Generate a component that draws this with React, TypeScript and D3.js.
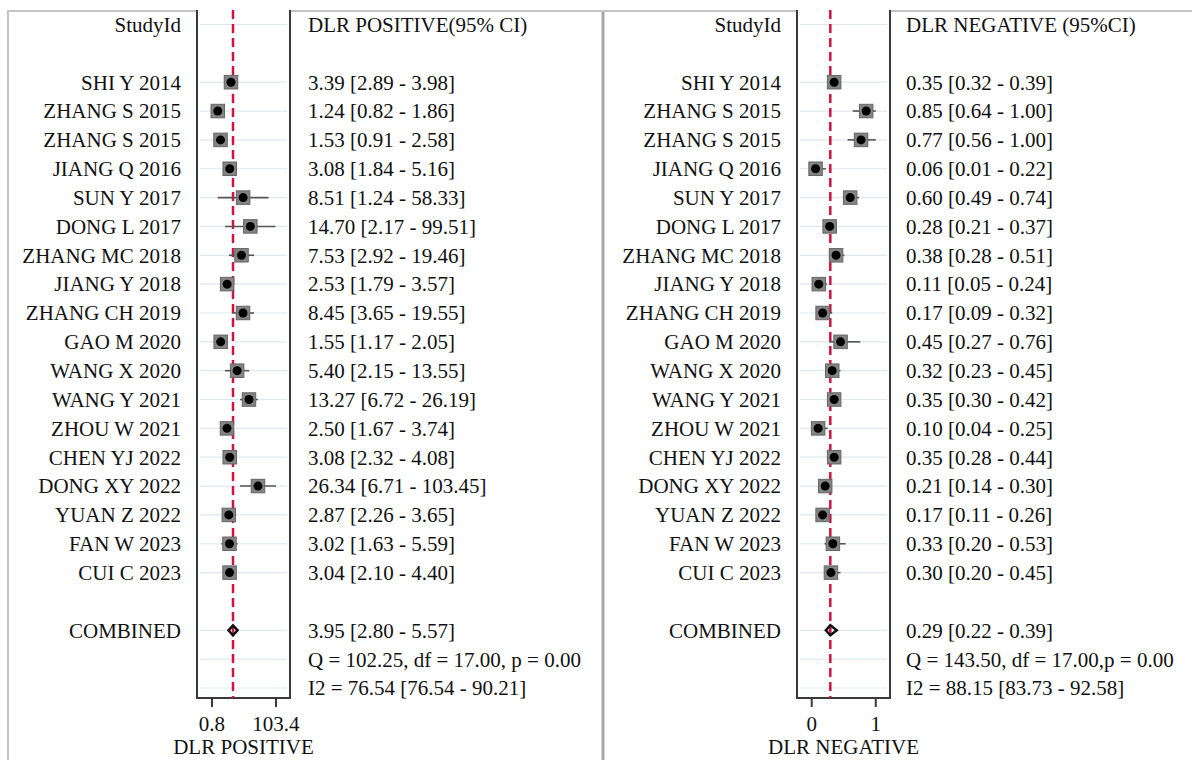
import React from 'react'
import * as d3 from 'd3'

const studies = [
  'SHI Y 2014', 'ZHANG S 2015', 'ZHANG S 2015', 'JIANG Q 2016', 'SUN Y 2017',
  'DONG L 2017', 'ZHANG MC 2018', 'JIANG Y 2018', 'ZHANG CH 2019', 'GAO M 2020',
  'WANG X 2020', 'WANG Y 2021', 'ZHOU W 2021', 'CHEN YJ 2022', 'DONG XY 2022',
  'YUAN Z 2022', 'FAN W 2023', 'CUI C 2023',
]

const posEst = [3.39, 1.24, 1.53, 3.08, 8.51, 14.70, 7.53, 2.53, 8.45, 1.55, 5.40, 13.27, 2.50, 3.08, 26.34, 2.87, 3.02, 3.04]
const posLo = [2.89, 0.82, 0.91, 1.84, 1.24, 2.17, 2.92, 1.79, 3.65, 1.17, 2.15, 6.72, 1.67, 2.32, 6.71, 2.26, 1.63, 2.10]
const posHi = [3.98, 1.86, 2.58, 5.16, 58.33, 99.51, 19.46, 3.57, 19.55, 2.05, 13.55, 26.19, 3.74, 4.08, 103.45, 3.65, 5.59, 4.40]

const negEst = [0.35, 0.85, 0.77, 0.06, 0.60, 0.28, 0.38, 0.11, 0.17, 0.45, 0.32, 0.35, 0.10, 0.35, 0.21, 0.17, 0.33, 0.30]
const negLo = [0.32, 0.64, 0.56, 0.01, 0.49, 0.21, 0.28, 0.05, 0.09, 0.27, 0.23, 0.30, 0.04, 0.28, 0.14, 0.11, 0.20, 0.20]
const negHi = [0.39, 1.00, 1.00, 0.22, 0.74, 0.37, 0.51, 0.24, 0.32, 0.76, 0.45, 0.42, 0.25, 0.44, 0.30, 0.26, 0.53, 0.45]

const posPooled = [3.95, 2.80, 5.57]
const negPooled = [0.29, 0.22, 0.39]

const posStats = ['Q = 102.25, df = 17.00, p = 0.00', 'I2 = 76.54 [76.54 - 90.21]']
const negStats = ['Q = 143.50, df = 17.00,p = 0.00', 'I2 = 88.15 [83.73 - 92.58]']

const posTicks = [0.8, 103.4]
const negTicks = [0, 1]

const W = 1192
const H = 760
const FONT = '"Liberation Serif", "Times New Roman", serif'
const FS = 21

// row index: 0 header, 1 blank, 2..19 studies, 20 blank, 21 combined, 22 Q, 23 I2
const y = d3.scaleLinear().domain([0, 23]).range([24.5, 688])
const gridRows = [0, ...studies.map((_, i) => i + 2), 21, 22, 23]

const boxTop = 10
const boxBottom = 698

const fmt = d3.format('.2f')
const ci = (e, l, h) => `${fmt(e)} [${fmt(l)} - ${fmt(h)}]`

function Panel({ p }) {
  const x = p.scale
  const [x0, x1] = x.range()
  const ref = x(p.pooled[0])
  const sq = 13.5
  return (
    <g>
      {/* header */}
      <text x={p.labelX} y={y(0)} textAnchor="end" dy="0.35em">StudyId</text>
      <text x={p.valueX} y={y(0)} dy="0.35em">{p.header}</text>

      {/* grid */}
      {gridRows.map(r => (
        <line key={r} x1={x0 + 3} x2={x1 - 3} y1={y(r)} y2={y(r)} stroke="#dde9ef" strokeWidth={1.2} />
      ))}

      {/* box */}
      <path d={`M${x0},${boxTop}V${boxBottom}H${x1}V${boxTop}`} fill="none" stroke="#3a3a3a" strokeWidth={2} />
      {p.ticks.map(t => (
        <g key={t}>
          <line x1={x(t)} x2={x(t)} y1={boxBottom} y2={boxBottom + 9} stroke="#3a3a3a" strokeWidth={2} />
          <text x={x(t)} y={731} textAnchor="middle">{p.tickFmt(t)}</text>
        </g>
      ))}
      <text x={(x0 + x1) / 2} y={754} textAnchor="middle">{p.title}</text>

      {/* reference line */}
      <line x1={ref} x2={ref} y1={boxTop} y2={boxBottom} stroke="#d0143f" strokeWidth={2.5} strokeDasharray="9,5" />

      {/* studies */}
      {studies.map((s, i) => {
        const yy = y(i + 2)
        const cx = x(p.est[i])
        return (
          <g key={i}>
            <text x={p.labelX} y={yy} textAnchor="end" dy="0.35em">{s}</text>
            <text x={p.valueX} y={yy} dy="0.35em">{ci(p.est[i], p.lo[i], p.hi[i])}</text>
            <line x1={x(p.lo[i])} x2={x(p.hi[i])} y1={yy} y2={yy} stroke="#555" strokeWidth={1.6} />
            <rect x={cx - sq / 2} y={yy - sq / 2} width={sq} height={sq} fill="#848484" stroke="#666" strokeWidth={1} />
            <circle cx={cx} cy={yy} r={4.5} fill="#000" />
          </g>
        )
      })}

      {/* combined */}
      <text x={p.labelX} y={y(21)} textAnchor="end" dy="0.35em">COMBINED</text>
      <text x={p.valueX} y={y(21)} dy="0.35em">{ci(p.pooled[0], p.pooled[1], p.pooled[2])}</text>
      <path
        d={`M${x(p.pooled[1])},${y(21)}L${ref},${y(21) - 5}L${x(p.pooled[2])},${y(21)}L${ref},${y(21) + 5}Z`}
        fill="none" stroke="#111" strokeWidth={2.5}
      />
      {p.stats.map((s, i) => (
        <text key={i} x={p.valueX} y={y(22 + i)} dy="0.35em">{s}</text>
      ))}

      {/* frame top pieces */}
      <line x1={p.frameL} x2={x0 - 1} y1={11} y2={11} stroke="#c4c4c4" strokeWidth={2} />
      <line x1={x1 + 1} x2={p.frameR} y1={11} y2={11} stroke="#c4c4c4" strokeWidth={2} />
    </g>
  )
}

export default function App() {
  const panels = [
    {
      est: posEst, lo: posLo, hi: posHi, pooled: posPooled, stats: posStats,
      scale: d3.scaleLog().domain([0.256, 300]).range([197, 290]),
      ticks: posTicks, tickFmt: d3.format('.1f'),
      header: 'DLR POSITIVE(95% CI)', title: 'DLR POSITIVE',
      labelX: 181, valueX: 308, frameL: 8, frameR: 603,
    },
    {
      est: negEst, lo: negLo, hi: negHi, pooled: negPooled, stats: negStats,
      scale: d3.scaleLinear().domain([-0.23, 1.222]).range([797, 890]),
      ticks: negTicks, tickFmt: d3.format('d'),
      header: 'DLR NEGATIVE (95%CI)', title: 'DLR NEGATIVE',
      labelX: 781, valueX: 906, frameL: 603, frameR: W,
    },
  ]
  return (
    <svg
      width={W}
      height={H}
      viewBox={`0 0 ${W} ${H}`}
      style={{ position: 'absolute', left: 0, top: 0, background: '#fff' }}
      fontFamily={FONT}
      fontSize={FS}
      fill="#111"
    >
      <rect width={W} height={H} fill="#fff" />
      <line x1={8} x2={8} y1={10} y2={H} stroke="#c4c4c4" strokeWidth={2} />
      <line x1={603} x2={603} y1={10} y2={H} stroke="#a6a6a6" strokeWidth={3} />
      {panels.map((p, i) => <Panel key={i} p={p} />)}
    </svg>
  )
}
